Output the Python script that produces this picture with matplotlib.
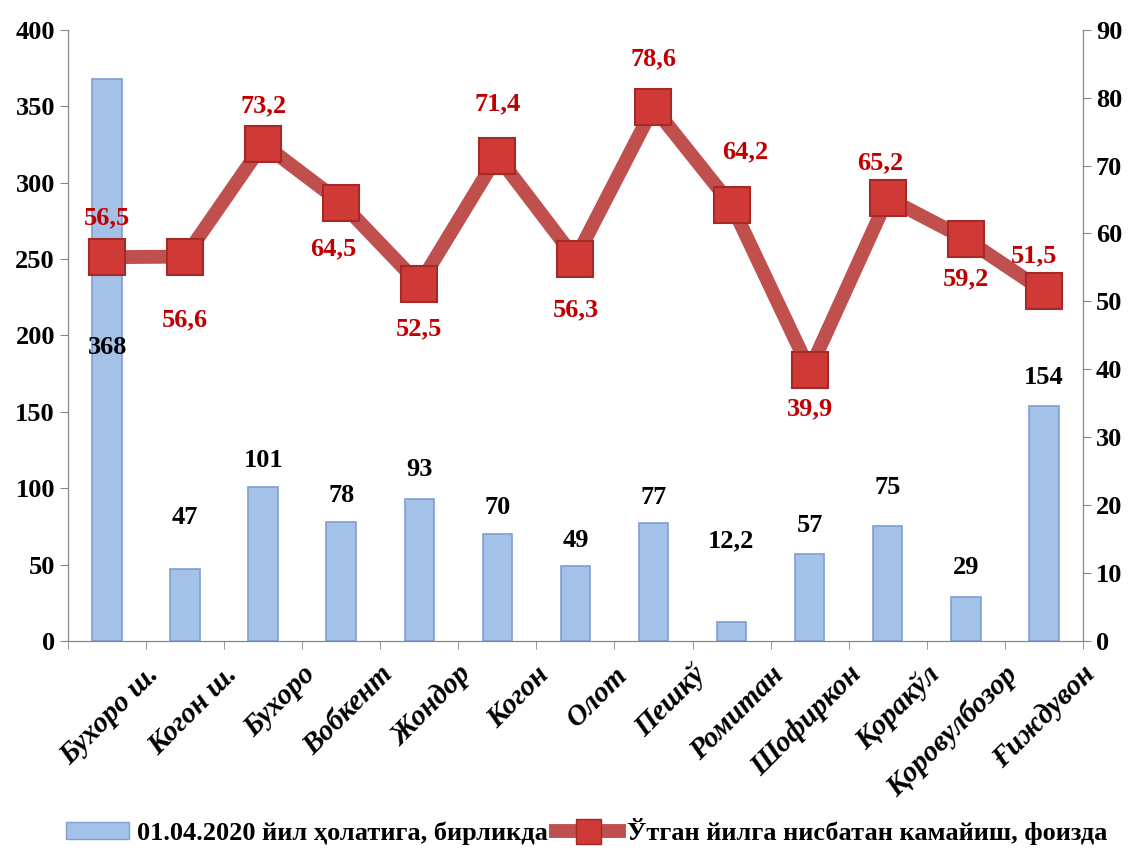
import numpy as np
import matplotlib
matplotlib.use('Agg')
import matplotlib.pyplot as plt
from matplotlib.lines import Line2D
from matplotlib.patches import Patch

plt.rcParams['font.family'] = ['Liberation Serif', 'DejaVu Serif']
plt.rcParams['font.weight'] = 'bold'

districts = ['Бухоро ш.', 'Когон ш.', 'Бухоро', 'Вобкент', 'Жондор', 'Когон', 'Олот',
             'Пешкў', 'Ромитан', 'Шофиркон', 'Қоракўл', 'Қоровулбозор', 'Ғиждувон']
units = [368, 47, 101, 78, 93, 70, 49, 77, 12.2, 57, 75, 29, 154]
unit_labels = ['368', '47', '101', '78', '93', '70', '49', '77', '12,2', '57', '75', '29', '154']
decrease = [56.5, 56.6, 73.2, 64.5, 52.5, 71.4, 56.3, 78.6, 64.2, 39.9, 65.2, 59.2, 51.5]
decrease_labels = ['56,5', '56,6', '73,2', '64,5', '52,5', '71,4', '56,3', '78,6', '64,2',
                   '39,9', '65,2', '59,2', '51,5']

# label placement (pixels, + is up), as in the original
bar_label_off = [0, 52, 26, 26, 29, 26, 26, 26, 81, 28, 39, 29, 28]
line_label_off = [39, -63, 38, -46, -44, 52, -51, 48, 53, -39, 35, -40, 35]
line_label_dx = [0, 0, 0, -8, 0, 0, 0, 0, 14, 0, -7, 0, -10]

fig, ax = plt.subplots(figsize=(11.35, 8.5), dpi=100)
fig.subplots_adjust(left=0.06, right=0.954, top=0.965, bottom=0.246)
ax2 = ax.twinx()
px = 72 / fig.dpi

x = np.arange(len(districts))
ax.bar(x, units, width=0.38, color='#A4C2E8', edgecolor='#7E9FCF', linewidth=1.2, zorder=2)
for i, (v, s) in enumerate(zip(units, unit_labels)):
    if v > 300:
        ax.text(i, 192, s, ha='center', va='center', fontsize=19, fontweight='bold', color='black', zorder=5)
    else:
        ax.annotate(s, (i, v), xytext=(0, bar_label_off[i] * px), textcoords='offset points',
                    ha='center', va='center', fontsize=19, fontweight='bold', color='black')

ax.set_xlim(-0.5, len(districts) - 0.5)
ax.set_ylim(0, 400)
ax.set_yticks(range(0, 401, 50))
ax2.set_ylim(0, 90)
ax2.set_yticks(range(0, 91, 10))

ax2.plot(x, decrease, color='#C0504D', linewidth=10, marker='s', markersize=26,
         markerfacecolor='#D03A36', markeredgecolor='#A52A27', markeredgewidth=1.5, zorder=3)
for i, (v, s) in enumerate(zip(decrease, decrease_labels)):
    ax2.annotate(s, (i, v), xytext=(line_label_dx[i] * px, line_label_off[i] * px),
                 textcoords='offset points', ha='center', va='center',
                 fontsize=19, fontweight='bold', color='#C00000', zorder=6)

# category labels, rotated like in Excel
ax.set_xticks(x)
ax.set_xticklabels([])
for i, name in enumerate(districts):
    ax.annotate(name, (i, 0), xycoords=('data', 'axes fraction'), xytext=(38 * px, -20 * px),
                textcoords='offset points', rotation=45, ha='right', va='top',
                rotation_mode='anchor', fontsize=21, fontweight='bold', fontstyle='italic',
                annotation_clip=False)
ax.set_xticks(np.arange(len(districts) + 1) - 0.5, minor=True)
ax.tick_params(axis='x', which='major', length=0)
ax.tick_params(axis='x', which='minor', length=6, color='#868686')

for a in (ax, ax2):
    a.spines['top'].set_visible(False)
    for side in ('left', 'right', 'bottom'):
        a.spines[side].set_color('#868686')
    a.tick_params(axis='y', labelsize=19, color='#868686', length=6)
for lab in ax.get_yticklabels() + ax2.get_yticklabels():
    lab.set_fontweight('bold')

handles = [Patch(facecolor='#A4C2E8', edgecolor='#7E9FCF'),
           Line2D([0], [0], color='#C0504D', linewidth=10, marker='s', markersize=18,
                  markerfacecolor='#D03A36', markeredgecolor='#A52A27')]
fig.legend(handles, ['01.04.2020 йил ҳолатига, бирликда', 'Ўтган йилга нисбатан камайиш, фоизда'],
           loc='lower center', bbox_to_anchor=(0.517, -0.022), ncol=2, frameon=False,
           prop={'size': 19, 'weight': 'bold'}, handlelength=2.4, handleheight=0.6,
           columnspacing=0.3, handletextpad=0.3)

fig.savefig('out.png', dpi=100)
